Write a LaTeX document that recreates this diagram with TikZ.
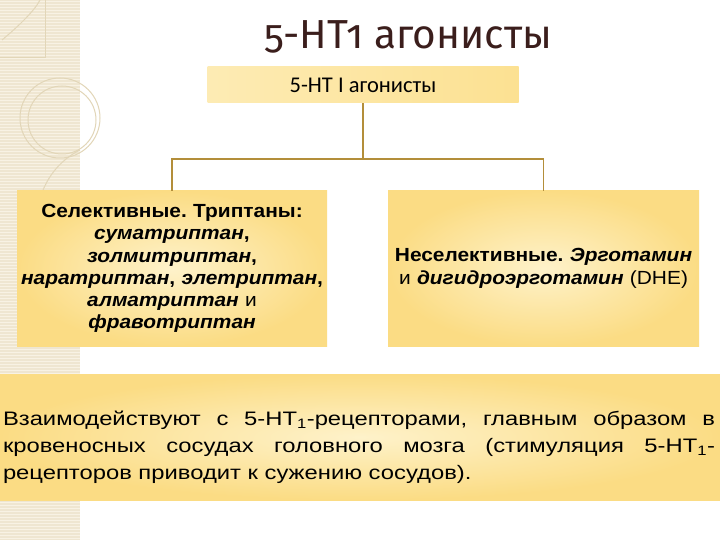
\documentclass[tikz,border=0pt]{standalone}
\usepackage{fontspec}
\setmainfont{Liberation Sans}
\newfontfamily\titlefont[Numbers=OldStyle]{Fira Sans}
\newfontfamily\calfont{Carlito}
\newfontfamily\boxfont[FakeStretch=1.1]{Liberation Sans}
\newfontfamily\widefont[FakeStretch=1.22]{Liberation Sans}
\definecolor{stripbg}{HTML}{EFE6D1}
\definecolor{stripln}{HTML}{F8F2E4}
\definecolor{stripdeco}{HTML}{E2D6B8}
\definecolor{boxout}{HTML}{FBDC84}
\definecolor{boxin}{HTML}{FEF2CA}
\definecolor{topfill}{HTML}{FCE192}
\definecolor{connc}{HTML}{B38E3A}
\definecolor{titlec}{HTML}{3B1E1C}
\tikzset{
  ybox/.style={shade, inner color=boxin, outer color=boxout, inner sep=0pt},
  conn/.style={draw=connc, line width=1.8pt},
  stripe/.style={draw=stripln, line width=0.8pt},
  deco/.style={draw=stripdeco, line width=1pt},
}
\begin{document}
\frenchspacing
\begin{tikzpicture}[x=1pt,y=-1pt]
\useasboundingbox (0,0) rectangle (720,540);
\fill[white] (0,0) rectangle (720,540);
% left decorative strip
\fill[stripbg] (0,0) rectangle (80,540);
\foreach \yy in {1,4,...,540} \draw[stripe] (0,\yy) -- (80,\yy);
\draw[deco] (0,58) -- (45,58) -- (45,0);
\draw[deco] (2,40) .. controls (20,25) and (35,10) .. (40,0);
\draw[deco] (60,118) circle (40);
\draw[deco] (62,120) circle (34);
\draw[deco] (80,150) .. controls (50,165) and (30,200) .. (40,240);
% title
\node[font=\titlefont\fontsize{40.5}{44}\selectfont, text=titlec] (title) at (408,37) {5-HT1 агонисты};
% top box
\node[shade, left color=boxin!60!topfill, right color=topfill, minimum width=311pt, minimum height=36pt, inner sep=0pt,
      font=\calfont\fontsize{22.5}{24}\selectfont] (top) at (363,85) {5-HT I агонисты};
% lower boxes
\node[ybox, minimum width=310pt, minimum height=155pt, text width=306pt, align=center,
      font=\boxfont\fontsize{19}{22.2}\selectfont\bfseries] (left) at (172,268.5)
  {Селективные. Триптаны:\\ \textit{суматриптан},\\ \textit{золмитриптан},\\ \textit{наратриптан}, \textit{элетриптан},\\ \textit{алматриптан} {\mdseries и}\\ \textit{фравотриптан}};
\node[ybox, minimum width=311pt, minimum height=155pt, text width=307pt, align=center,
      font=\boxfont\fontsize{19}{23}\selectfont] (right) at (543.5,268.5)
  {\textbf{Неселективные. \textit{Эрготамин}}\\ и \textbf{\textit{дигидроэрготамин}} (DHE)};
% connectors
\coordinate (j) at (363,159);
\draw[conn] (top.south) -- (j);
\draw[conn] (left.north) |- (j) -| (right.north);
% bottom box
\node[ybox, minimum width=720pt, minimum height=126pt] (bot) at (360,437) {};
\node[inner sep=0pt, font=\widefont\fontsize{19.5}{27}\selectfont] (bottxt) at (359,447)
  {\parbox{712pt}{\noindent Взаимодействуют с 5-HT\textsubscript{1}-рецепторами, главным образом в\linebreak кровеносных сосудах головного мозга (стимуляция 5-HT\textsubscript{1}-\linebreak рецепторов приводит к сужению сосудов).}};
\end{tikzpicture}
\end{document}
